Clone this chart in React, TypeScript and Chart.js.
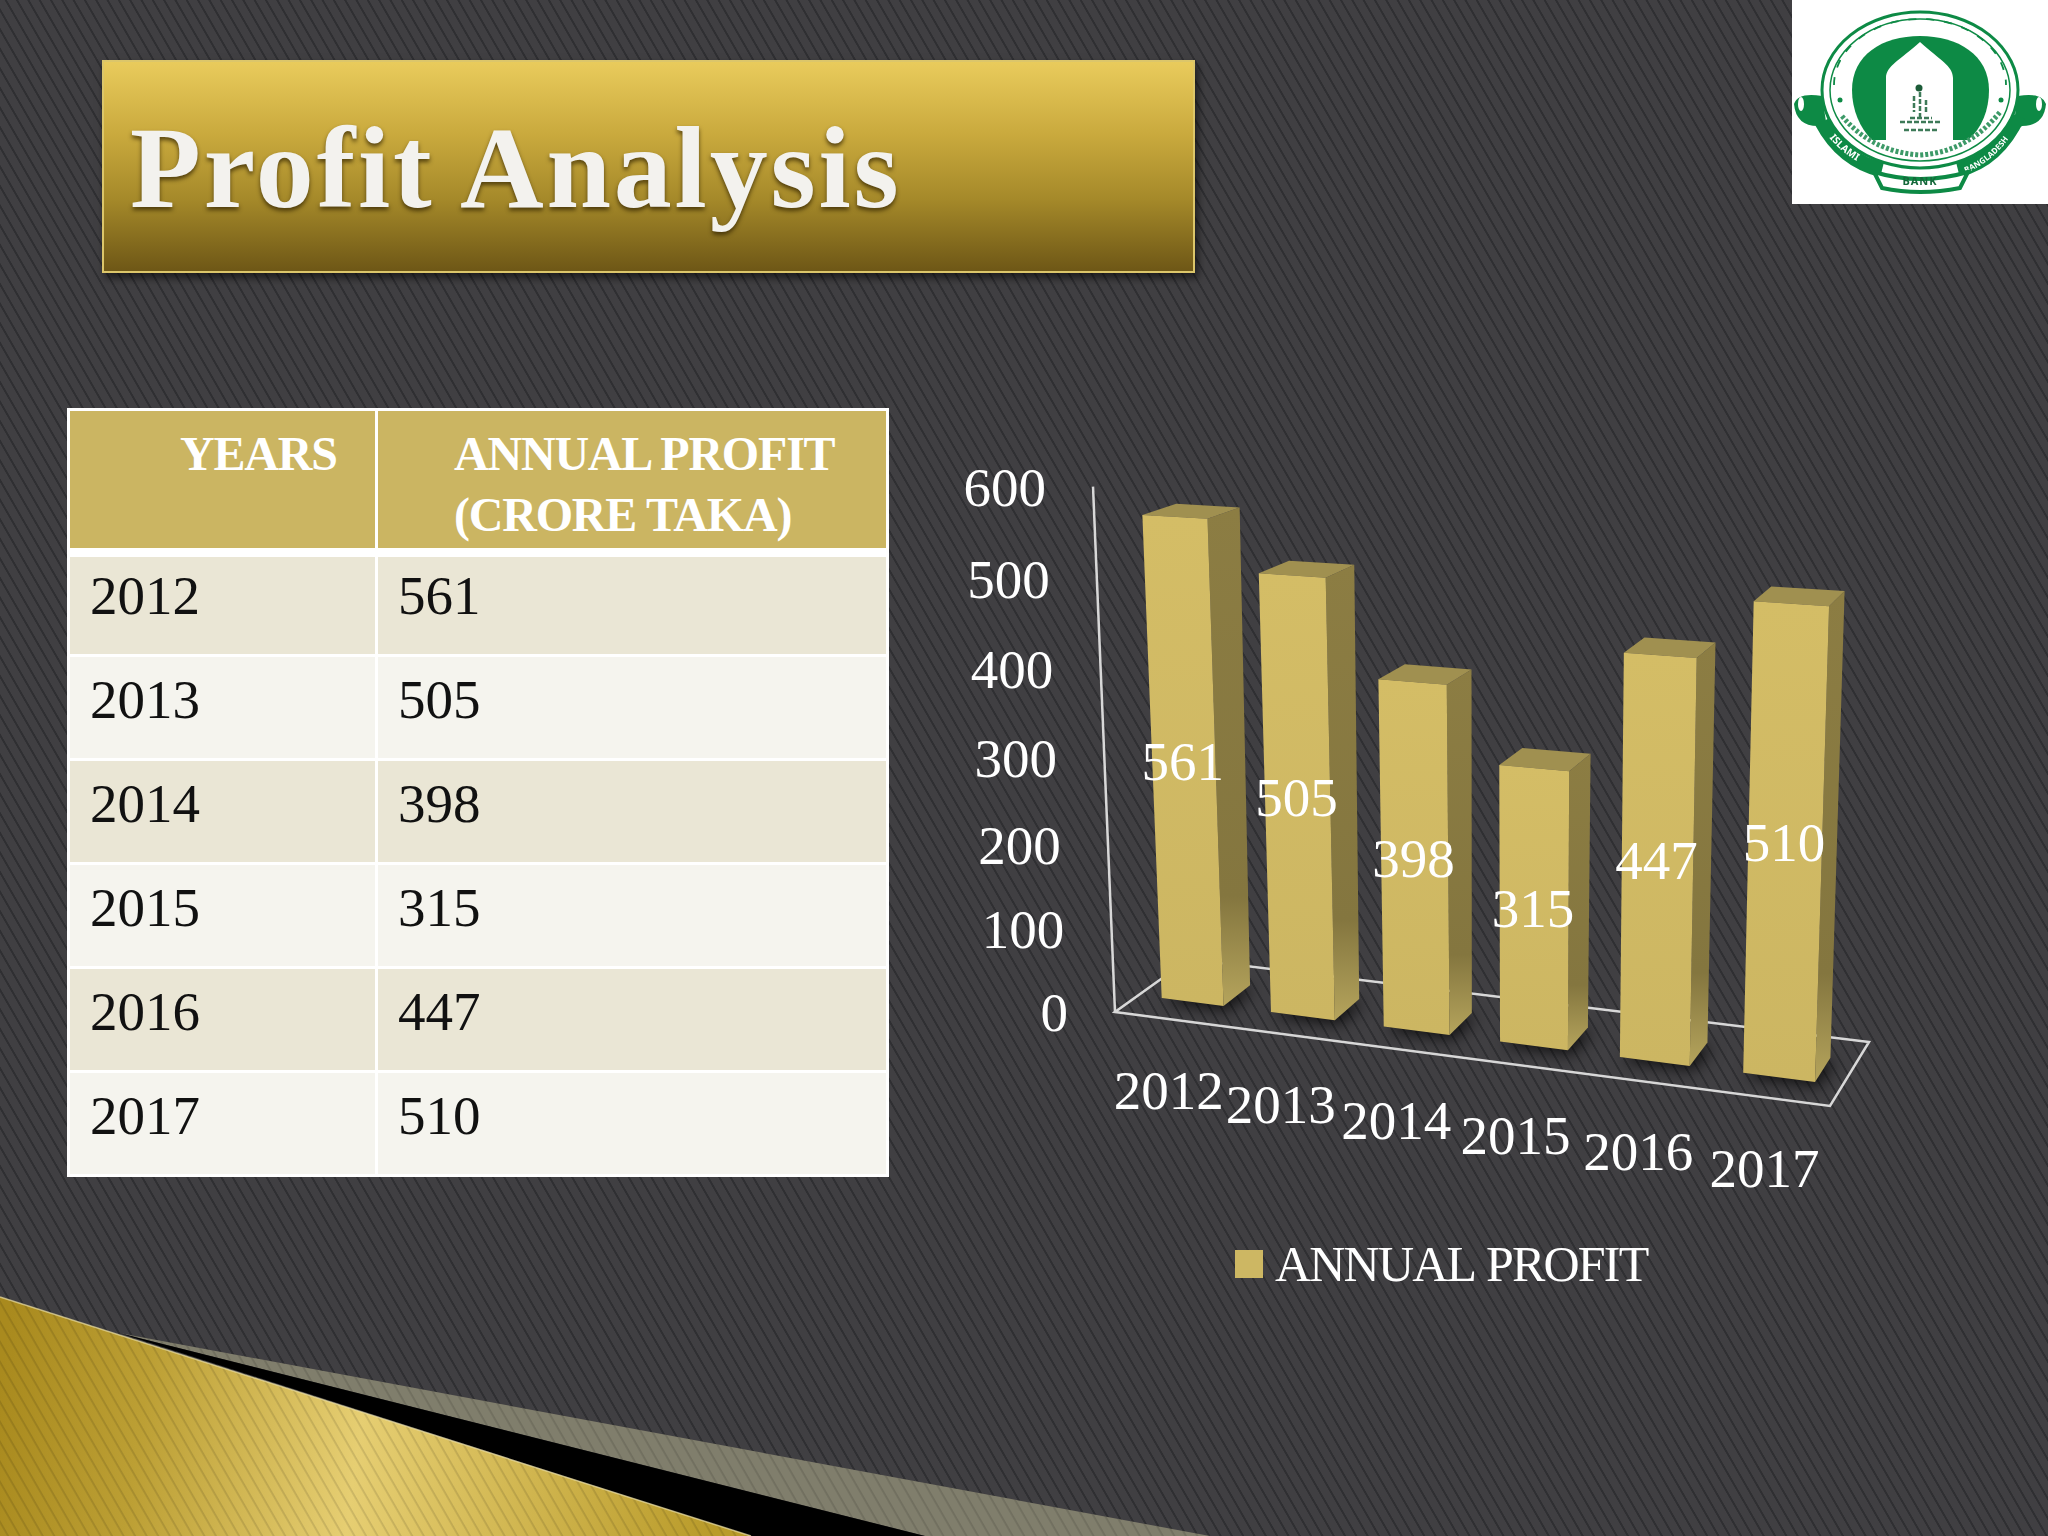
import { useEffect, useRef } from 'react'
import { Chart, registerables } from 'chart.js'

Chart.register(...registerables)

const years = ['2012', '2013', '2014', '2015', '2016', '2017']
const profit = [561, 505, 398, 315, 447, 510]
const yTicks = [0, 100, 200, 300, 400, 500, 600]
const seriesName = 'ANNUAL PROFIT'

const SERIF = '"Liberation Serif", serif'
const GOLD = '#CDB763'

// canvas sits at this page offset, projection below works in page pixels
const CANVAS = { left: 940, top: 440, width: 1000, height: 880 }

// fake 3D: t along category axis, d depth into the floor, h share of y axis
function project(t: number, d: number, h: number) {
  const u = t - 0.09 * t * (1 - t)
  const fx = 1115 + 715 * u, fy = 1012 + 94 * u
  const bx = 1189 + 680 * u, by = 959 + 83 * u
  const gx = fx + (bx - fx) * d
  const gy = fy + (by - fy) * d
  const lift = (492.6 * h + 32.4 * h * h) * (0.985 + 0.095 * u) * (1 - 0.05 * (d - 0.32))
  const lean = -22 + 40 * u + 18 * Math.max(0, d - 0.32) * (1 - u)
  return { x: gx + lean * h - CANVAS.left, y: gy - lift - CANVAS.top }
}

function poly(c: CanvasRenderingContext2D, pts: { x: number; y: number }[]) {
  c.beginPath()
  pts.forEach((p, i) => (i ? c.lineTo(p.x, p.y) : c.moveTo(p.x, p.y)))
  c.closePath()
}

const DEPTH_FRONT = 0.32
const DEPTH_BACK = 0.7

const bars3d = {
  id: 'bars3d',
  beforeDatasetsDraw(chart: any) {
    const { ctx: c, scales } = chart
    const xs = scales.x, ys = scales.y
    c.save()

    // floor frame and wall line
    c.strokeStyle = '#d8d8d8'
    c.lineWidth = 2.5
    poly(c, [project(0, 0, 0), project(1, 0, 0), project(1, 1, 0), project(0, 1, 0)])
    c.stroke()
    const a0 = project(0, 0, 0), a1 = project(0, 0, 1)
    c.beginPath(); c.moveTo(a0.x, a0.y); c.lineTo(a1.x, a1.y); c.stroke()

    chart.getDatasetMeta(0).data.forEach((bar: any) => {
      const t0 = (bar.x - bar.width / 2 - xs.left) / xs.width
      const t1 = (bar.x + bar.width / 2 - xs.left) / xs.width
      const h = (ys.bottom - bar.y) / ys.height
      const fl0 = project(t0, DEPTH_FRONT, 0), fr0 = project(t1, DEPTH_FRONT, 0), br0 = project(t1, DEPTH_BACK, 0)
      const bl0 = project(t0, DEPTH_BACK, 0)
      const fl = project(t0, DEPTH_FRONT, h), fr = project(t1, DEPTH_FRONT, h)
      const br = project(t1, DEPTH_BACK, h), bl = project(t0, DEPTH_BACK, h)

      // soft shadow on the floor
      c.save()
      c.shadowColor = 'rgba(0,0,0,0.75)'
      c.shadowBlur = 16
      c.shadowOffsetX = 4
      c.shadowOffsetY = 4
      c.fillStyle = '#222'
      poly(c, [fl0, fr0, br0, bl0])
      c.fill()
      c.restore()

      const side = c.createLinearGradient(0, br.y, 0, fr0.y)
      side.addColorStop(0, '#8C7D43')
      side.addColorStop(0.78, '#84763F')
      side.addColorStop(1, '#B5A45C')
      c.fillStyle = side
      poly(c, [fr, br, br0, fr0])
      c.fill()

      c.fillStyle = '#A09050'
      poly(c, [fl, fr, br, bl])
      c.fill()

      const front = c.createLinearGradient(0, fl.y, 0, fr0.y)
      front.addColorStop(0, '#D4BD66')
      front.addColorStop(1, '#CCB662')
      c.fillStyle = front
      poly(c, [fl, fr, fr0, fl0])
      c.fill()
    })
    c.restore()
    return false
  },
  afterDraw(chart: any) {
    const { ctx: c, scales } = chart
    const xs = scales.x, ys = scales.y
    c.save()
    c.fillStyle = '#fff'
    c.font = `55px ${SERIF}`
    c.textBaseline = 'middle'

    c.textAlign = 'right'
    yTicks.forEach(v => {
      const p = project(0, 0, (ys.bottom - ys.getPixelForValue(v)) / ys.height)
      c.fillText(String(v), p.x - 47, p.y + 5)
    })

    c.textAlign = 'center'
    years.forEach((label, i) => {
      const p = project((xs.getPixelForValue(i) - xs.left) / xs.width, 0, 0)
      c.fillText(label, p.x - 1, p.y + 75)
    })

    chart.getDatasetMeta(0).data.forEach((bar: any, i: number) => {
      const t = (bar.x - xs.left) / xs.width
      const h = (ys.bottom - bar.y) / ys.height
      const a = project(t, DEPTH_FRONT, 0), b = project(t, DEPTH_FRONT, h)
      c.fillText(String(profit[i]), (a.x + b.x) / 2 - 1, (a.y + b.y) / 2 + 6)
    })

    // legend
    c.fillStyle = GOLD
    c.fillRect(1235 - CANVAS.left, 1250 - CANVAS.top, 28, 28)
    c.fillStyle = '#fff'
    c.textAlign = 'left'
    c.textBaseline = 'alphabetic'
    c.font = `50px ${SERIF}`
    ;(c as any).letterSpacing = '-1.8px'
    c.fillText(chart.data.datasets[0].label, 1275 - CANVAS.left, 1281 - CANVAS.top)
    c.restore()
  },
}

function ProfitChart() {
  const canvasRef = useRef<HTMLCanvasElement>(null)

  useEffect(() => {
    if (!canvasRef.current) return
    const chart = new Chart(canvasRef.current, {
      type: 'bar',
      plugins: [bars3d],
      data: {
        labels: years,
        datasets: [{
          label: seriesName,
          data: profit,
          backgroundColor: GOLD,
          barPercentage: 0.57,
          categoryPercentage: 1,
        }],
      },
      options: {
        responsive: false,
        devicePixelRatio: 1,
        animation: false,
        layout: { padding: 0 },
        plugins: { legend: { display: false }, tooltip: { enabled: false } },
        scales: {
          x: { display: false },
          y: { display: false, min: 0, max: 600 },
        },
      },
    } as any)
    return () => chart.destroy()
  }, [])

  return (
    <canvas
      ref={canvasRef}
      width={CANVAS.width}
      height={CANVAS.height}
      style={{ position: 'absolute', left: CANVAS.left, top: CANVAS.top, width: CANVAS.width, height: CANVAS.height }}
    />
  )
}

function ProfitTable() {
  const cell = { fontSize: 55, lineHeight: '52px', color: '#111' }
  const head = { background: '#CBB562', color: '#fff', fontWeight: 700, fontSize: 48, lineHeight: '61px', letterSpacing: -1.2, paddingTop: 12 }
  return (
    <div style={{
      position: 'absolute', left: 67, top: 408, width: 822, boxSizing: 'border-box',
      background: '#fff', padding: 3, display: 'grid', gridTemplateColumns: '305px 1fr', columnGap: 3,
      fontFamily: SERIF,
    }}>
      <div style={{ ...head, height: 137, boxSizing: 'border-box', paddingLeft: 110, marginBottom: 9 }}>YEARS</div>
      <div style={{ ...head, height: 137, boxSizing: 'border-box', paddingLeft: 76, marginBottom: 9 }}>ANNUAL PROFIT<br />(CRORE TAKA)</div>
      {years.map((y, i) => {
        const bg = i % 2 ? '#F5F4EE' : '#EAE6D5'
        const row = { ...cell, background: bg, height: i ? 101 : 97, boxSizing: 'border-box' as const, paddingTop: i ? 17 : 13, marginBottom: i < years.length - 1 ? 3 : 0 }
        return [
          <div key={y} style={{ ...row, paddingLeft: 20 }}>{y}</div>,
          <div key={y + 'v'} style={{ ...row, paddingLeft: 20 }}>{profit[i]}</div>,
        ]
      })}
    </div>
  )
}

function Logo() {
  const g = '#0E8A45'
  return (
    <svg width={256} height={204} viewBox="0 0 256 204" style={{ position: 'absolute', left: 1792, top: 0, background: '#fff' }}>
      <defs>
        <filter id="soft"><feGaussianBlur stdDeviation="0.7" /></filter>
        <path id="ribL" d="M34 128 Q52 156 88 168" />
        <path id="ribR" d="M168 172 Q206 158 224 120" />
      </defs>
      <g filter="url(#soft)">
        {/* ribbon ends */}
        <path d="M2 104 Q6 92 30 96 L36 134 L26 126 Q4 126 2 104Z" fill={g} />
        <path d="M254 104 Q250 92 226 96 L220 134 L230 126 Q252 126 254 104Z" fill={g} />
        <ellipse cx="9" cy="104" rx="3" ry="7" fill="#fff" />
        <ellipse cx="247" cy="104" rx="3" ry="7" fill="#fff" />
        {/* ribbons */}
        <path d="M30 122 Q50 160 90 170" fill="none" stroke={g} strokeWidth="15" />
        <path d="M226 116 Q206 160 166 170" fill="none" stroke={g} strokeWidth="15" />
        <ellipse cx="128" cy="90" rx="98" ry="78" fill="#fff" stroke={g} strokeWidth="3" />
        <ellipse cx="128" cy="90" rx="90" ry="71" fill="none" stroke={g} strokeWidth="1.5" />
        {/* dome with arch cut out */}
        <path d="M60 90 C60 55 90 36 128 36 C166 36 197 55 197 90 C197 110 190 128 176 140 L80 140 C68 128 60 110 60 90Z" fill={g} />
        <path d="M94 142 L94 78 C94 66 108 60 128 42 C148 60 161 66 161 78 L161 142Z" fill="#fff" />
        {/* calligraphy */}
        <path d="M128 92 L128 118 M118 118 L140 118 M108 122 L150 122 M112 130 L146 130 M122 96 L122 112 M134 100 L134 114" stroke="#3d7a58" strokeWidth="2.5" strokeDasharray="5 2" fill="none" />
        <circle cx="127" cy="88" r="3.5" fill="#1b5c38" />
        {/* upper arc script */}
        <path d="M42 85 A86 66 0 0 1 214 85" fill="none" stroke={g} strokeWidth="1.8" strokeDasharray="8 10" />
        {/* lower arc script */}
        <path d="M50 116 Q80 152 128 155 Q176 152 208 112" fill="none" stroke="#3e9a68" strokeWidth="5" strokeDasharray="3 2" />
        <circle cx="48" cy="100" r="2.5" fill={g} />
        <circle cx="209" cy="100" r="2.5" fill={g} />
        <text fontSize="10" fill="#fff" fontFamily="Noto Sans" fontWeight="700" dy="3">
          <textPath href="#ribL" startOffset="14%">ISLAMI</textPath>
        </text>
        <text fontSize="8" fill="#fff" fontFamily="Noto Sans" fontWeight="700" dy="3">
          <textPath href="#ribR" startOffset="6%">BANGLADESH</textPath>
        </text>
        <path d="M82 172 Q128 186 176 172 L168 188 Q128 196 90 188Z" fill="#fff" stroke={g} strokeWidth="4" />
        <text x="128" y="185" textAnchor="middle" fontSize="11" fill="#14683a" fontFamily="Noto Sans" fontWeight="700" letterSpacing="1">BANK</text>
      </g>
    </svg>
  )
}

function BottomSwoosh() {
  return (
    <svg width={1240} height={256} viewBox="0 0 1240 256" style={{ position: 'absolute', left: 0, top: 1280 }}>
      <defs>
        <linearGradient id="goldFill" gradientUnits="userSpaceOnUse" x1="0" y1="100" x2="720" y2="200">
          <stop offset="0" stopColor="#A98A1E" />
          <stop offset="0.2" stopColor="#BC9F34" />
          <stop offset="0.5" stopColor="#E6CE72" />
          <stop offset="1" stopColor="#B99B2A" />
        </linearGradient>
        <pattern id="swooshHatch" width="10" height="10" patternUnits="userSpaceOnUse" patternTransform="rotate(60)">
          <rect width="10" height="1.8" y="0" fill="rgba(0,0,0,0.12)" />
        </pattern>
      </defs>
      <polygon points="119,53 1210,256 925,256" fill="#807E6C" />
      <polygon points="119,53 925,256 751,256" fill="#000" />
      <polygon points="0,17 751,256 0,256" fill="url(#goldFill)" />
      <polygon points="0,17 751,256 0,256" fill="url(#swooshHatch)" />
      <polygon points="119,53 1210,256 925,256" fill="url(#swooshHatch)" />
      <line x1="0" y1="17" x2="751" y2="256" stroke="#EFE3A8" strokeWidth="1.5" opacity="0.7" />
    </svg>
  )
}

export default function App() {
  return (
    <div style={{
      position: 'absolute', left: 0, top: 0, width: 2048, height: 1536, overflow: 'hidden',
      background: 'repeating-linear-gradient(60deg, #403F42 0 7.2px, #2F2F32 7.8px 9.2px, #403F42 9.8px)',
    }}>
      <div style={{
        position: 'absolute', left: 102, top: 60, width: 1093, height: 213, boxSizing: 'border-box',
        border: '2px solid #DCC66A',
        background: 'linear-gradient(180deg, #E9CB5C 0%, #C9A93D 35%, #A68A2A 65%, #6E5716 100%)',
        boxShadow: '3px 5px 8px rgba(0,0,0,0.55)',
      }}>
        <div style={{
          position: 'absolute', left: 26, top: 40, whiteSpace: 'nowrap',
          fontFamily: SERIF, fontWeight: 700, fontSize: 116, lineHeight: '132px', letterSpacing: 2.8,
          color: '#F3F2EE', textShadow: '0 3px 4px rgba(50,35,0,0.75)',
        }}>
          Profit Analysis
        </div>
      </div>
      <Logo />
      <ProfitTable />
      <ProfitChart />
      <BottomSwoosh />
    </div>
  )
}
